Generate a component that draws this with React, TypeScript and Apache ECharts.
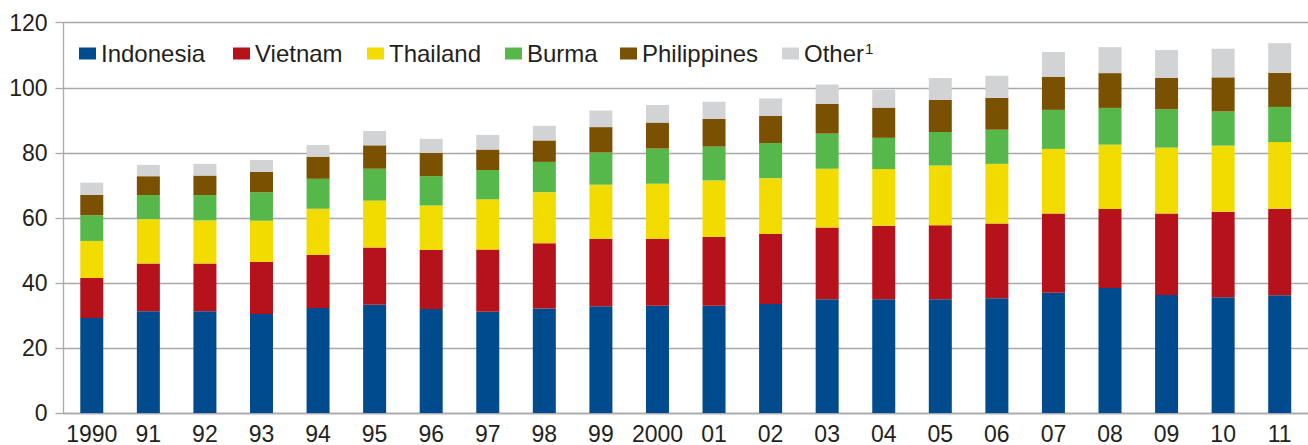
import React, { useEffect, useRef } from "react";
import * as echarts from "echarts";

const years = ["1990","91","92","93","94","95","96","97","98","99","2000","01","02","03","04","05","06","07","08","09","10","11"];
const indonesia = [29.2,31.3,31.3,30.4,32.3,33.3,32.0,31.1,32.1,32.8,33.0,33.0,33.5,35.0,35.0,35.0,35.3,37.0,38.4,36.3,35.6,36.2];
const vietnam = [12.3,14.7,14.7,16.0,16.3,17.6,18.1,19.2,20.1,20.8,20.5,21.1,21.5,22.0,22.6,22.7,23.0,24.3,24.3,25.0,26.3,26.6];
const thailand = [11.4,13.6,13.2,12.7,14.2,14.4,13.7,15.4,15.7,16.6,17.0,17.4,17.2,18.1,17.4,18.4,18.3,19.9,19.8,20.3,20.3,20.5];
const burma = [7.9,7.4,7.8,8.8,9.2,9.8,9.0,9.0,9.3,9.9,10.8,10.4,10.8,10.8,9.6,10.3,10.5,12.0,11.3,11.8,10.5,10.8];
const philippines = [6.3,5.8,6.0,6.3,6.8,7.2,7.2,6.3,6.6,7.8,8.0,8.5,8.4,9.1,9.3,9.9,9.8,10.2,10.7,9.6,10.5,10.5];
const other = [3.7,3.5,3.6,3.6,3.6,4.4,4.3,4.5,4.5,5.1,5.4,5.3,5.3,6.0,5.5,6.7,6.8,7.6,8.0,8.6,8.8,9.1];

const seriesNames = ["Indonesia","Vietnam","Thailand","Burma","Philippines","Other"];
const seriesData = [indonesia, vietnam, thailand, burma, philippines, other];
const colors = ["#004b8d","#b5121b","#f2dc00","#56b84a","#7a5100","#d2d3d5"];
const legendLeft = [79, 233, 367, 505, 620, 782];

const FONT = "'Liberation Sans', Arial, Helvetica, sans-serif";
const TEXT = "#231f20";
const GRID = "#a7a9ac";

export default function App() {
  const ref = useRef<HTMLDivElement>(null);
  useEffect(() => {
    document.body.style.margin = "0";
    const chart = echarts.init(ref.current!, null, { renderer: "svg" });
    chart.setOption({
      animation: false,
      textStyle: { fontFamily: FONT },
      grid: { left: 63.5, right: -8.5, top: 22.7, bottom: 31.7, containLabel: false },
      legend: seriesNames.map((n, i) => ({
        data: [n],
        left: legendLeft[i],
        top: 41,
        padding: 0,
        itemWidth: 17,
        itemHeight: 12,
        itemGap: 5,
        icon: "rect",
        selectedMode: false,
        formatter: n === "Other" ? "Other{sup|1}" : "{name}",
        textStyle: {
          fontFamily: FONT,
          fontSize: 24,
          color: TEXT,
          lineHeight: 25,
          rich: { sup: { fontSize: 15, verticalAlign: "top", lineHeight: 15, padding: [0, 0, 0, 1], color: TEXT, fontFamily: FONT } },
        },
      })),
      xAxis: {
        type: "category",
        data: years,
        axisLine: { show: true, lineStyle: { color: GRID, width: 1.3 } },
        axisTick: { show: false },
        axisLabel: { color: TEXT, fontSize: 23, fontFamily: FONT, margin: 9, interval: 0 },
      },
      yAxis: {
        type: "value",
        min: 0,
        max: 120,
        interval: 20,
        axisLine: { show: true, lineStyle: { color: GRID, width: 1.3 } },
        axisTick: { show: true, length: 8, lineStyle: { color: GRID, width: 1.3 } },
        axisLabel: { color: TEXT, fontSize: 23, fontFamily: FONT, margin: 16 },
        splitLine: { show: true, lineStyle: { color: GRID, width: 1.3 } },
      },
      series: seriesNames.map((n, i) => ({
        name: n,
        type: "bar",
        stack: "total",
        barWidth: 23,
        data: seriesData[i],
        itemStyle: { color: colors[i] },
        emphasis: { disabled: true },
      })),
    });
    return () => chart.dispose();
  }, []);
  return <div ref={ref} style={{ width: 1308, height: 445 }} />;
}
